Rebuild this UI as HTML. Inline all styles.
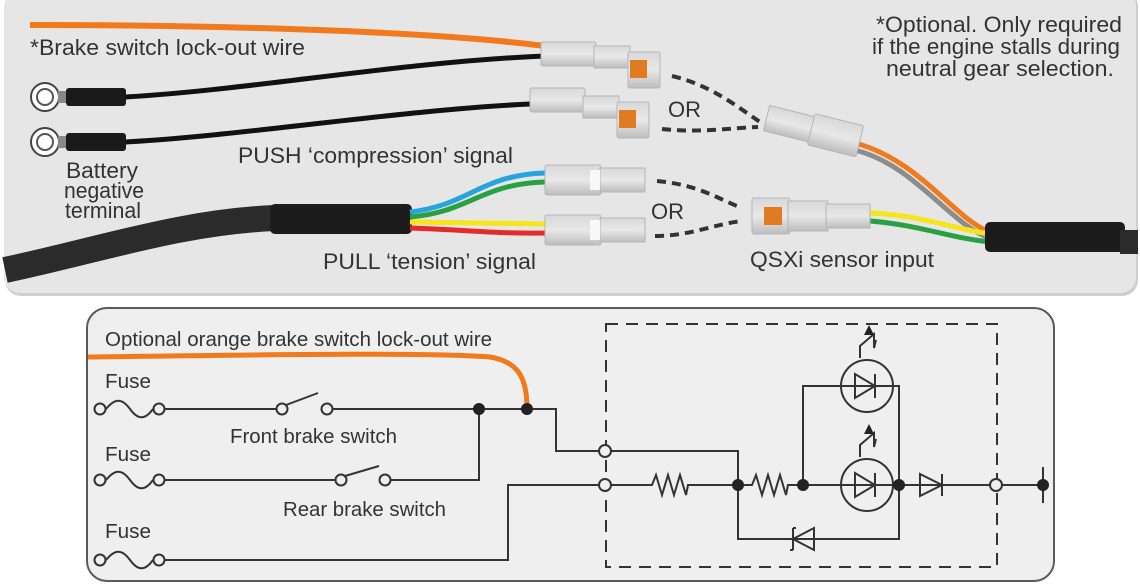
<!DOCTYPE html>
<html><head><meta charset="utf-8"><style>
body{margin:0;background:#fff;}
svg{display:block;font-family:"Liberation Sans",Arial,sans-serif;}
</style></head><body>
<svg width="1140" height="588" viewBox="0 0 1140 588" xmlns="http://www.w3.org/2000/svg">
<defs>
<linearGradient id="cg" x1="0" y1="0" x2="0" y2="1"><stop offset="0" stop-color="#d8d8d8"/><stop offset="0.5" stop-color="#e8e8e8"/><stop offset="1" stop-color="#bdbdbd"/></linearGradient>
</defs>
<!-- top panel -->
<rect x="5" y="-10" width="1133" height="306" rx="16" fill="#cfcfcf"/>
<rect x="4" y="-10" width="1132" height="303" rx="16" fill="#e6e6e6"/>

<!-- wires -->
<path d="M30 25 C200 25 420 30 545 46" stroke="#f07a1c" stroke-width="6" fill="none"/>
<path d="M125 97 C250 90 400 62 545 56" stroke="#111" stroke-width="5" fill="none"/>
<path d="M125 142 C250 135 400 110 530 104" stroke="#111" stroke-width="5" fill="none"/>
<!-- ring terminals -->
<circle cx="45" cy="97" r="14" fill="#fff" stroke="#444" stroke-width="2"/><circle cx="45" cy="97" r="8" fill="#fff" stroke="#555" stroke-width="2"/>
<rect x="58" y="91" width="8" height="12" fill="#888"/>
<rect x="66" y="88" width="60" height="18" rx="3" fill="#1a1a1a"/>
<circle cx="45" cy="142" r="14" fill="#fff" stroke="#444" stroke-width="2"/><circle cx="45" cy="142" r="8" fill="#fff" stroke="#555" stroke-width="2"/>
<rect x="58" y="136" width="8" height="12" fill="#888"/>
<rect x="66" y="133" width="60" height="18" rx="3" fill="#1a1a1a"/>

<!-- main cable -->
<path d="M5 270 C100 250 180 222 275 218" stroke="#2b2b2b" stroke-width="26" fill="none"/>
<rect x="270" y="204" width="142" height="30" rx="5" fill="#1c1c1c"/>
<path d="M410 212 C470 205 480 175 545 173" stroke="#27a3dd" stroke-width="5" fill="none"/>
<path d="M410 217 C470 212 480 184 545 182" stroke="#28a043" stroke-width="5" fill="none"/>
<path d="M410 222 L545 224" stroke="#f5e51a" stroke-width="5" fill="none"/>
<path d="M410 228 C470 230 500 234 545 233" stroke="#e22b2b" stroke-width="5" fill="none"/>

<!-- right cable -->
<path d="M855 143 C920 160 955 220 990 232" stroke="#f07a1c" stroke-width="5" fill="none"/>
<path d="M855 150 C915 165 950 225 990 238" stroke="#8c8c8c" stroke-width="5" fill="none"/>
<path d="M870 213 C920 215 950 228 990 234" stroke="#f5e51a" stroke-width="5" fill="none"/>
<path d="M870 221 C920 225 950 238 990 242" stroke="#28a043" stroke-width="5" fill="none"/>
<rect x="985" y="222" width="140" height="30" rx="5" fill="#1c1c1c"/>
<rect x="1120" y="230" width="18" height="24" fill="#2b2b2b"/>

<!-- connectors -->
<g fill="url(#cg)" stroke="#b5b5b5" stroke-width="1">
<rect x="541" y="42" width="55" height="24" rx="2"/><rect x="594" y="46" width="36" height="22"/><rect x="628" y="52" width="32" height="36" rx="2"/>
<rect x="530" y="88" width="55" height="24" rx="2"/><rect x="583" y="96" width="36" height="22"/><rect x="617" y="102" width="32" height="36" rx="2"/>
<rect x="545" y="165" width="56" height="30" rx="2"/><rect x="600" y="168" width="45" height="24"/>
<rect x="545" y="215" width="56" height="30" rx="2"/><rect x="600" y="218" width="45" height="24"/>
<rect x="752" y="198" width="38" height="36" rx="2"/><rect x="788" y="201" width="40" height="30"/><rect x="826" y="204" width="44" height="24"/>
<g transform="rotate(14 810 130)"><rect x="765" y="116" width="48" height="26"/><rect x="811" y="113" width="50" height="32" rx="2"/></g>
</g>
<rect x="630" y="60" width="17" height="18" fill="#e07b22"/>
<rect x="619" y="110" width="17" height="18" fill="#e07b22"/>
<rect x="764" y="207" width="18" height="18" fill="#e07b22"/>
<rect x="590" y="170" width="10" height="20" fill="#f8f8f8"/><rect x="590" y="220" width="10" height="20" fill="#f8f8f8"/>

<!-- dashed -->
<g stroke="#333" stroke-width="4" fill="none" stroke-dasharray="9 6">
<path d="M672 76 C710 85 735 105 760 122"/>
<path d="M662 129 C700 133 730 128 758 127"/>
<path d="M657 181 C700 185 720 200 742 208"/>
<path d="M655 236 C690 236 715 224 742 221"/>
</g>

<g fill="#333" font-size="22" lengthAdjust="spacingAndGlyphs">
<text x="30" y="55" textLength="275" lengthAdjust="spacingAndGlyphs">*Brake switch lock-out wire</text>
<text x="66" y="178" textLength="72" lengthAdjust="spacingAndGlyphs">Battery</text>
<text x="64" y="198" textLength="80" lengthAdjust="spacingAndGlyphs">negative</text>
<text x="65" y="218" textLength="76" lengthAdjust="spacingAndGlyphs">terminal</text>
<text x="238" y="163" textLength="275" lengthAdjust="spacingAndGlyphs">PUSH ‘compression’ signal</text>
<text x="323" y="269" textLength="213" lengthAdjust="spacingAndGlyphs">PULL ‘tension’ signal</text>
<text x="750" y="267" textLength="184" lengthAdjust="spacingAndGlyphs">QSXi sensor input</text>
<text x="668" y="117">OR</text>
<text x="651" y="219">OR</text>
<text x="876" y="32" textLength="246" lengthAdjust="spacingAndGlyphs">*Optional. Only required</text>
<text x="872" y="54" textLength="248" lengthAdjust="spacingAndGlyphs">if the engine stalls during</text>
<text x="886" y="76" textLength="228" lengthAdjust="spacingAndGlyphs">neutral gear selection.</text>
</g>

<!-- bottom panel -->
<rect x="87" y="308" width="967" height="273" rx="20" fill="#efefef" stroke="#5a5a5a" stroke-width="2"/>
<path d="M88 357 C250 355 420 352 490 357 C520 362 527 380 527 409" stroke="#f07a1c" stroke-width="5" fill="none"/>

<g stroke="#333" stroke-width="2" fill="none">
<g id="f"><circle cx="100" cy="409" r="5.5"/><path d="M106 409 C115 398 122 398 130 409 C138 420 145 420 153 409"/><circle cx="159" cy="409" r="5.5"/></g>
<use href="#f" transform="translate(0 71)"/>
<use href="#f" transform="translate(0 151)"/>
<path d="M165 409 H276"/><circle cx="282" cy="409" r="5.5"/><path d="M286 405 L318 393"/><circle cx="327" cy="409" r="5.5"/><path d="M333 409 H527 H556 V451 H599"/>
<path d="M165 480 H335"/><circle cx="341" cy="480" r="5.5"/><path d="M345 476 L379 466"/><circle cx="385" cy="480" r="5.5"/><path d="M391 480 H479 V409"/>
<path d="M165 560 H508 V485 H599"/>
<rect x="606" y="324" width="391" height="243" stroke-dasharray="12 8"/>
<circle cx="605" cy="451" r="6" fill="#efefef"/><circle cx="605" cy="485" r="6" fill="#efefef"/>
<path d="M611 451 H738 V485"/>
<path d="M611 485 H652 l4 -10 l6 20 l6 -20 l6 20 l6 -20 l6 20 l2 -10 H752 l4 -10 l6 20 l6 -20 l6 20 l6 -20 l6 20 l2 -10 H899 H990"/>
<path d="M738 485 V539 H899 V386 H803 V485"/>
<circle cx="867" cy="386" r="26"/><circle cx="867" cy="485" r="26"/>
<path d="M855 374 V398 L875 386 Z M875 374 V398"/>
<path d="M855 473 V497 L875 485 Z M875 473 V497"/>
<path d="M860 358 V346 L874 334 V348 L876 340"/>
<path d="M860 457 V445 L874 433 V447 L876 439"/>
<path d="M920 474 V496 L942 485 Z M942 474 V496"/>
<path d="M814 528 V550 L793 539 Z M793 528 V550 M793 528 h3 M793 550 h-3"/>
<circle cx="996" cy="485" r="6" fill="#efefef"/>
<path d="M1002 485 H1043 M1043 467 V503"/>
</g>
<g fill="#222">
<path d="M869 325 l5 10 h-10 z"/><path d="M869 424 l5 10 h-10 z"/>
<circle cx="479" cy="409" r="6"/><circle cx="527" cy="409" r="6"/>
<circle cx="738" cy="485" r="6"/><circle cx="803" cy="485" r="6"/><circle cx="899" cy="485" r="6"/><circle cx="1043" cy="485" r="6"/>
</g>
<g fill="#333" font-size="20">
<text x="105" y="346" textLength="387" lengthAdjust="spacingAndGlyphs">Optional orange brake switch lock-out wire</text>
<text x="105" y="388" textLength="46" lengthAdjust="spacingAndGlyphs">Fuse</text>
<text x="105" y="461" textLength="46" lengthAdjust="spacingAndGlyphs">Fuse</text>
<text x="105" y="538" textLength="46" lengthAdjust="spacingAndGlyphs">Fuse</text>
<text x="230" y="443" textLength="167" lengthAdjust="spacingAndGlyphs">Front brake switch</text>
<text x="283" y="516" textLength="163" lengthAdjust="spacingAndGlyphs">Rear brake switch</text>
</g>
</svg>
</body></html>
